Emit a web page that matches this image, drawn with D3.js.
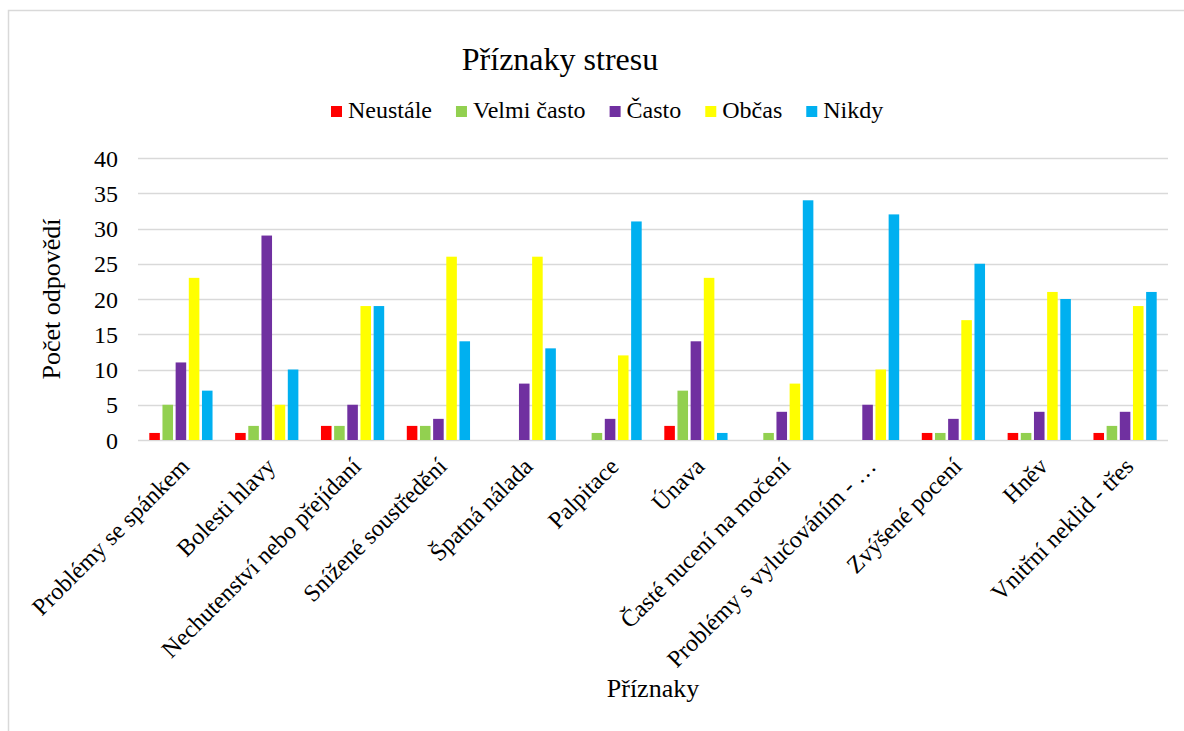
<!DOCTYPE html>
<html>
<head>
<meta charset="utf-8">
<script src="https://cdn.jsdelivr.net/npm/d3@7"></script>
<style>
  html, body { margin: 0; padding: 0; background: #ffffff; }
  svg { display: block; }
  svg text { font-family: "Liberation Serif", "Times New Roman", "DejaVu Serif", serif !important; fill: #000; }
</style>
</head>
<body>
<svg id="chart" width="1184" height="731"></svg>
<script>
// Symptom categories (x axis)
const categories = [
  "Problémy se spánkem",
  "Bolesti hlavy",
  "Nechutenství nebo přejídaní",
  "Snížené soustředění",
  "Špatná nálada",
  "Palpitace",
  "Únava",
  "Časté nucení na močení",
  "Problémy s vylučováním - …",
  "Zvýšené pocení",
  "Hněv",
  "Vnitřní neklid - třes"
];

// Frequency series
const seriesNames = ["Neustále", "Velmi často", "Často", "Občas", "Nikdy"];
const seriesColors = ["#FF0000", "#92D050", "#7030A0", "#FFFF00", "#00B0F0"];

// Answer counts per series, one value per category
const neustale   = [1, 1, 2, 2, 0, 0, 2, 0, 0, 1, 1, 1];
const velmiCasto = [5, 2, 2, 2, 0, 1, 7, 1, 0, 1, 1, 2];
const casto      = [11, 29, 5, 3, 8, 3, 14, 4, 5, 3, 4, 4];
const obcas      = [23, 5, 19, 26, 26, 12, 23, 8, 10, 17, 21, 19];
const nikdy      = [7, 10, 19, 14, 13, 31, 1, 34, 32, 25, 20, 21];

const yTicks = [0, 5, 10, 15, 20, 25, 30, 35, 40];

const seriesValues = [neustale, velmiCasto, casto, obcas, nikdy];

const svg = d3.select("#chart");
const W = 1184, H = 731;

// Chart frame
svg.append("rect")
  .attr("x", 8.5).attr("y", 10.5)
  .attr("width", W + 10).attr("height", H + 10)
  .attr("fill", "none")
  .attr("stroke", "#d9d9d9")
  .attr("stroke-width", 1.5);

const plot = { left: 138, right: 1168, top: 158, bottom: 440 };

const y = d3.scaleLinear().domain([0, 40]).range([plot.bottom, plot.top]);

const groupPad = 0.233;
const x0 = d3.scaleBand()
  .domain(categories)
  .range([plot.left, plot.right])
  .paddingInner(groupPad)
  .paddingOuter(groupPad / 2);

const x1 = d3.scaleBand()
  .domain(seriesNames)
  .range([0, x0.bandwidth()]);

// Gridlines
svg.append("g")
  .selectAll("line")
  .data(yTicks)
  .join("line")
  .attr("x1", plot.left).attr("x2", plot.right)
  .attr("y1", d => Math.round(y(d)) + 0.5)
  .attr("y2", d => Math.round(y(d)) + 0.5)
  .attr("stroke", "#d9d9d9")
  .attr("stroke-width", 1.5);

// Y axis labels
const yAxis = d3.axisLeft(y).tickValues(yTicks).tickSize(0).tickPadding(0);
const gy = svg.append("g")
  .attr("transform", `translate(${plot.left - 20},0)`)
  .call(yAxis);
gy.select(".domain").remove();
gy.attr("font-size", 24);
gy.selectAll("text").attr("dy", "0.34em");

// Bars
const groups = svg.append("g")
  .selectAll("g")
  .data(categories)
  .join("g")
  .attr("transform", d => `translate(${x0(d)},0)`);

const barInset = 1.3;
groups.selectAll("rect")
  .data((c, i) => seriesNames.map((s, k) => ({ s, k, v: seriesValues[k][i] })))
  .join("rect")
  .filter(d => d.v > 0)
  .attr("x", d => x1(d.s) + barInset)
  .attr("width", x1.bandwidth() - 2 * barInset)
  .attr("y", d => y(d.v))
  .attr("height", d => y(0) - y(d.v))
  .attr("fill", d => seriesColors[d.k]);

// Category labels (rotated)
const xAxis = d3.axisBottom(x0).tickSize(0).tickPadding(0);
const gx = svg.append("g")
  .attr("transform", `translate(0,${plot.bottom})`)
  .call(xAxis);
gx.select(".domain").remove();
gx.attr("font-size", 24);
gx.selectAll("text")
  .attr("text-anchor", "end")
  .attr("y", null)
  .attr("transform", "translate(-2,16) rotate(-45)")
  .attr("dy", "0.7em");

// Title
svg.append("text")
  .attr("x", 560).attr("y", 70)
  .attr("text-anchor", "middle")
  .attr("font-size", 32)
  .text("Příznaky stresu");

// Legend
const legend = svg.append("g").attr("transform", "translate(331,118)");
let lx = 0;
seriesNames.forEach((name, k) => {
  const item = legend.append("g").attr("transform", `translate(${lx},0)`);
  item.append("rect")
    .attr("x", 0).attr("y", -12)
    .attr("width", 11).attr("height", 11)
    .attr("fill", seriesColors[k]);
  const t = item.append("text")
    .attr("x", 17).attr("y", 0)
    .attr("font-size", 24)
    .text(name);
  lx += 17 + t.node().getComputedTextLength() + 24;
});

// Axis titles
svg.append("text")
  .attr("transform", `translate(60,${(plot.top + plot.bottom) / 2}) rotate(-90)`)
  .attr("text-anchor", "middle")
  .attr("font-size", 26)
  .text("Počet odpovědí");

svg.append("text")
  .attr("x", (plot.left + plot.right) / 2).attr("y", 697)
  .attr("text-anchor", "middle")
  .attr("font-size", 26)
  .text("Příznaky");
</script>
</body>
</html>
